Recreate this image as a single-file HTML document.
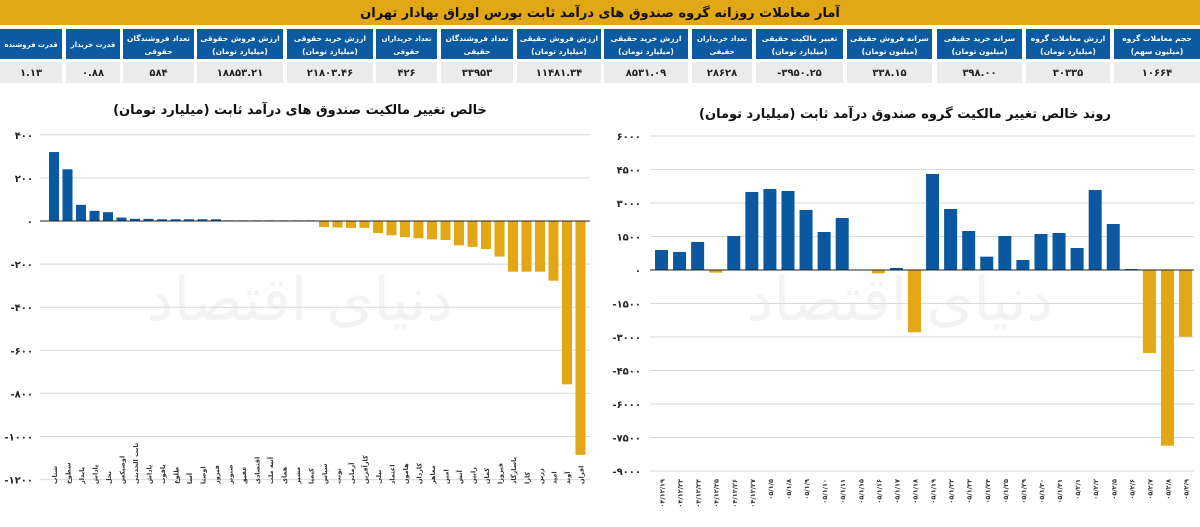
<!DOCTYPE html>
<html><head><meta charset="utf-8">
<style>
body{margin:0;background:#fff;}
svg{display:block;font-family:"DejaVu Sans","Liberation Sans",sans-serif;}
</style></head>
<body>
<svg id="s" width="1200" height="527" viewBox="0 0 1200 527" xmlns="http://www.w3.org/2000/svg">
<rect x="0" y="0" width="1200" height="527" fill="#fff"/>
<rect x="0" y="0" width="1200" height="25" fill="#e2a714"/>
<text x="600" y="17" text-anchor="middle" font-size="13" font-weight="bold" fill="#111" direction="rtl">آمار معاملات روزانه گروه صندوق های درآمد ثابت بورس اوراق بهادار تهران</text>
<g id="tbl"></g>
<text x="300" y="114" text-anchor="middle" font-size="13" font-weight="bold" fill="#111" direction="rtl">خالص تغییر مالکیت صندوق های درآمد ثابت (میلیارد تومان)</text>
<text x="905" y="118" text-anchor="middle" font-size="13" font-weight="bold" fill="#111" direction="rtl">روند خالص تغییر مالکیت گروه صندوق درآمد ثابت (میلیارد تومان)</text>
<text x="300" y="320" text-anchor="middle" font-size="60" fill="#f3f3f3" direction="rtl">دنیای اقتصاد</text>
<text x="900" y="320" text-anchor="middle" font-size="60" fill="#f3f3f3" direction="rtl">دنیای اقتصاد</text>
<g id="g"></g>
</svg>
<script>
var NS="http://www.w3.org/2000/svg";
function fa(s){return String(s).replace(/[0-9]/g,function(d){return "۰۱۲۳۴۵۶۷۸۹"[d];});}
function el(p,t,a,txt){var e=document.createElementNS(NS,t);for(var k in a)e.setAttribute(k,a[k]);if(txt!==undefined)e.textContent=txt;p.appendChild(e);return e;}
var T=document.getElementById("tbl");
var cells=[[0,62,"قدرت فروشنده","","۱.۱۳"],[66,120,"قدرت خریدار","","۰.۸۸"],[123,194,"تعداد فروشندگان","حقوقی","۵۸۴"],[197,283,"ارزش فروش حقوقی","(میلیارد تومان)","۱۸۸۵۳.۲۱"],[287,373,"ارزش خرید حقوقی","(میلیارد تومان)","۲۱۸۰۳.۴۶"],[376,437,"تعداد خریداران","حقوقی","۴۲۶"],[441,513,"تعداد فروشندگان","حقیقی","۳۳۹۵۳"],[517,601,"ارزش فروش حقیقی","(میلیارد تومان)","۱۱۴۸۱.۳۴"],[604,688,"ارزش خرید حقیقی","(میلیارد تومان)","۸۵۳۱.۰۹"],[692,752,"تعداد خریداران","حقیقی","۲۸۶۲۸"],[756,843,"تغییر مالکیت حقیقی","(میلیارد تومان)","-۳۹۵۰.۲۵"],[847,932,"سرانه فروش حقیقی","(میلیون تومان)","۳۳۸.۱۵"],[937,1022,"سرانه خرید حقیقی","(میلیون تومان)","۳۹۸.۰۰"],[1026,1110,"ارزش معاملات گروه","(میلیارد تومان)","۳۰۳۳۵"],[1114,1200,"حجم معاملات گروه","(میلیون سهم)","۱۰۶۶۴"]];
cells.forEach(function(c){var x=c[0],w=c[1]-c[0],cx=x+w/2;
el(T,"rect",{x:x,y:29,width:w,height:30,fill:"#0b5aa2"});
el(T,"rect",{x:x,y:62,width:w,height:21,fill:"#ebebeb"});
var fs=(w<70)?"7":"7.5";
if(c[3]){el(T,"text",{x:cx,y:41,"text-anchor":"middle","font-size":fs,"font-weight":"bold",fill:"#fff",direction:"rtl"},c[2]);
el(T,"text",{x:cx,y:54,"text-anchor":"middle","font-size":fs,"font-weight":"bold",fill:"#fff",direction:"rtl"},c[3]);}
else el(T,"text",{x:cx,y:47,"text-anchor":"middle","font-size":fs,"font-weight":"bold",fill:"#fff",direction:"rtl"},c[2]);
el(T,"text",{x:cx,y:76,"text-anchor":"middle","font-size":"10","font-weight":"bold",fill:"#222"},c[4]);});
var G=document.getElementById("g");
var z=221,sc=43.1/200;
for(var v=400;v>=-1200;v-=200){var y=z-v*sc;el(G,"line",{x1:40,x2:590,y1:y,y2:y,stroke:"#d9d9d9","stroke-width":1});
el(G,"text",{x:33,y:y+4,"text-anchor":"end","font-size":"10","font-weight":"bold",fill:"#222"},fa(v));}
var L=[320,240,75,47,41,16,10,10,8,8,8,8,8,3,3,3,3,3,3,3,-28,-30,-32,-32,-56,-66,-75,-80,-85,-88,-113,-120,-130,-165,-235,-235,-235,-277,-758,-1085];
var names=["شتاب","سطوح","پایدار","پاداش","نخل","اوصیکس","ثابت الحدیثی","یاداش","یاقوت","طلوع","آسا","اوصتا","فیروز","صنوبر","عقیق","اقتصادی","آتیه ملت","همای","مشیر","کیمیا","سپاس","نوبت","آرمانی","کارآفرین","نیلی","اعتماد","هامون","کاردان","معاهر","امین","آتش","رابین","کمان","فیروزا","پاسارگاد","کارا","زرین","امید","آوند","افران"];
L.forEach(function(v,i){var cx=54+i*13.5,h=Math.abs(v)*sc;
el(G,"rect",{x:cx-5,y:v>=0?z-h:z,width:10,height:h,fill:v>=0?"#0a58a0":"#e2a714"});
el(G,"text",{transform:"translate("+(cx+3)+",484) rotate(-90)","text-anchor":"end","font-size":"6.5","font-weight":"bold",fill:"#333",direction:"rtl"},names[i]);});
el(G,"line",{x1:40,x2:590,y1:z,y2:z,stroke:"#222","stroke-width":1});
var z2=270,s2=33.5/1500;
for(var v=6000;v>=-9000;v-=1500){var y=z2-v*s2;el(G,"line",{x1:650,x2:1194,y1:y,y2:y,stroke:"#d9d9d9","stroke-width":1});
el(G,"text",{x:641,y:y+4,"text-anchor":"end","font-size":"10","font-weight":"bold",fill:"#222"},fa(v));}
var R=[896,806,1254,-120,1523,3494,3628,3538,2687,1702,2329,0,-150,90,-2790,4300,2732,1747,597,1523,448,1612,1657,985,3583,2060,45,-3716,-7866,-2985];
var D=["۰۴/۱۲/۱۹","۰۴/۱۲/۲۳","۰۴/۱۲/۲۴","۰۴/۱۲/۲۵","۰۴/۱۲/۲۶","۰۴/۱۲/۲۷","۰۵/۱/۵","۰۵/۱/۸","۰۵/۱/۹","۰۵/۱/۱۰","۰۵/۱/۱۱","۰۵/۱/۱۵","۰۵/۱/۱۶","۰۵/۱/۱۷","۰۵/۱/۱۸","۰۵/۱/۱۹","۰۵/۱/۲۲","۰۵/۱/۲۳","۰۵/۱/۲۴","۰۵/۱/۲۵","۰۵/۱/۲۹","۰۵/۱/۳۰","۰۵/۱/۳۱","۰۵/۲/۱","۰۵/۲/۲","۰۵/۲/۵","۰۵/۲/۶","۰۵/۲/۷","۰۵/۲/۸","۰۵/۲/۹"];
R.forEach(function(v,i){var cx=661.5+i*18.07,h=Math.abs(v)*s2;
el(G,"rect",{x:cx-6.5,y:v>=0?z2-h:z2,width:13,height:h,fill:v>=0?"#0a58a0":"#e2a714"});
el(G,"text",{transform:"translate("+(cx+3)+",479) rotate(-90)","text-anchor":"end","font-size":"6.5","font-weight":"bold",fill:"#333"},D[i]);});
el(G,"line",{x1:650,x2:1194,y1:z2,y2:z2,stroke:"#222","stroke-width":1});
</script>
</body></html>
